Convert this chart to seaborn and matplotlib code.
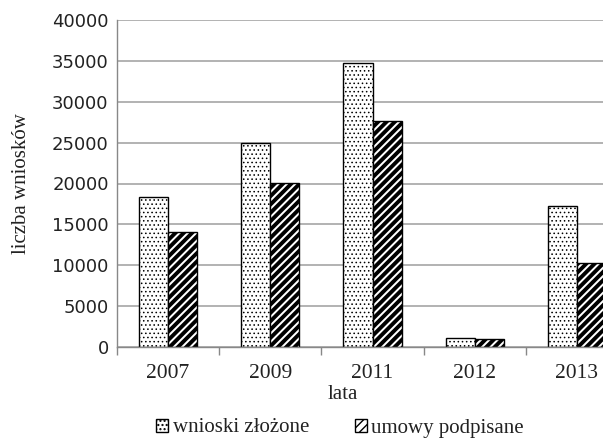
import matplotlib
matplotlib.use("Agg")
import matplotlib.pyplot as plt
import seaborn as sns
import pandas as pd
from matplotlib.patches import Patch

years = ["2007", "2009", "2011", "2012", "2013"]
wnioski = [18400, 24900, 34700, 1150, 17200]
umowy = [14100, 20100, 27600, 950, 10300]
series_names = ["wnioski złożone", "umowy podpisane"]
yticks = [0, 5000, 10000, 15000, 20000, 25000, 30000, 35000, 40000]

df = pd.DataFrame({
    "lata": years * 2,
    "value": wnioski + umowy,
    "series": [series_names[0]] * len(years) + [series_names[1]] * len(years),
})

sns.set_theme(style="white")
plt.rcParams["hatch.linewidth"] = 1.0

W, H = 603, 441
fig = plt.figure(figsize=(W / 100, H / 100), dpi=100)
ax = fig.add_axes([117 / W, 1 - 347 / H, (628 - 117) / W, (347 - 20) / H])

sns.barplot(data=df, x="lata", y="value", hue="series", palette=["white", "white"],
            width=0.57, ax=ax, legend=False, saturation=1, edgecolor="black",
            linewidth=1.0, gap=0)

hatches = ["....", "////"]
n = len(years)
for i, p in enumerate(ax.patches[:2 * n]):
    s = i // n
    p.set_hatch(hatches[s])
    p.set_edgecolor("black")
    try:
        p.set_hatch_linewidth(0.6 if s == 0 else 2.8)
    except Exception:
        pass

ax.set_ylim(0, 40000)
ax.set_xlim(-0.5, n - 0.5)
ax.set_yticks(yticks)
ax.set_yticklabels([str(v) for v in yticks], fontfamily="DejaVu Sans", fontsize=13, color="#222222")
ax.grid(axis="y", color="#a6a6a6", linewidth=1.2)
ax.set_axisbelow(True)

ax.set_xticks([k - 0.5 for k in range(n + 1)], minor=True)
ax.set_xticks(range(n))
ax.set_xticklabels(years, fontfamily="Liberation Serif", fontsize=15.5, color="#222222")
ax.tick_params(axis="x", which="major", length=0, pad=12)
ax.tick_params(axis="x", which="minor", length=6, width=1, color="#888888", bottom=True)
ax.tick_params(axis="y", length=0, pad=6)

for side in ["top", "right"]:
    ax.spines[side].set_visible(False)
for side in ["left", "bottom"]:
    ax.spines[side].set_color("#888888")
    ax.spines[side].set_linewidth(1.0)

ax.set_xlabel("lata", fontfamily="Liberation Serif", fontsize=15, color="#222222")
ax.xaxis.set_label_coords((343 - 117) / (628 - 117), -(385 - 347) / (347 - 20), transform=ax.transAxes)
ax.set_ylabel("liczba wniosków", fontfamily="Liberation Serif", fontsize=15, color="#222222")
ax.yaxis.set_label_coords(-(117 - 22) / (628 - 117), 0.5)
ax.yaxis.label.set_verticalalignment("center")

handles = [
    Patch(facecolor="white", edgecolor="black", hatch=hatches[0], label=series_names[0]),
    Patch(facecolor="white", edgecolor="black", hatch=hatches[1], label=series_names[1]),
]
leg = fig.legend(handles=handles, loc="center", bbox_to_anchor=(340 / W, 1 - 428 / H), ncol=2,
                 frameon=False, prop={"family": "Liberation Serif", "size": 15},
                 handlelength=0.6, handleheight=0.6, handletextpad=0.2, columnspacing=2.2,
                 borderpad=0.1)
for t in leg.get_texts():
    t.set_color("#222222")

fig.savefig("out.png", dpi=100)
